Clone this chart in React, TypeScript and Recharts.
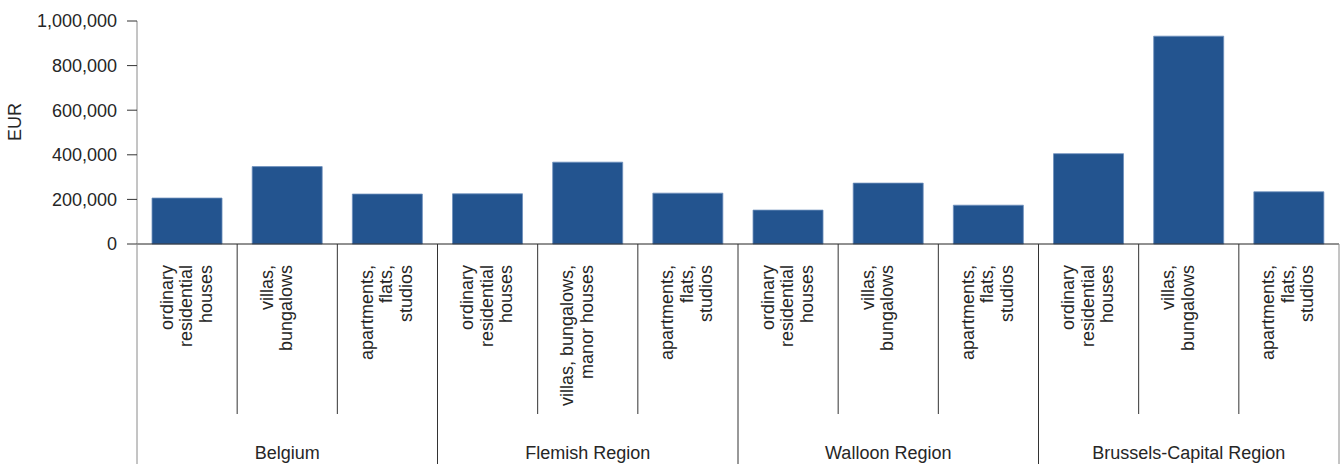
import React from 'react';
import { BarChart, Bar, XAxis, YAxis } from 'recharts';

const regions = ['Belgium', 'Flemish Region', 'Walloon Region', 'Brussels-Capital Region'];

const categoryLabels: string[][] = [
  ['ordinary', 'residential', 'houses'],
  ['villas,', 'bungalows'],
  ['apartments,', 'flats,', 'studios'],
  ['ordinary', 'residential', 'houses'],
  ['villas, bungalows,', 'manor houses'],
  ['apartments,', 'flats,', 'studios'],
  ['ordinary', 'residential', 'houses'],
  ['villas,', 'bungalows'],
  ['apartments,', 'flats,', 'studios'],
  ['ordinary', 'residential', 'houses'],
  ['villas,', 'bungalows'],
  ['apartments,', 'flats,', 'studios'],
];

const prices = [206000, 347000, 224000, 225000, 367000, 228000, 152000, 273000, 174000, 405000, 932000, 234000];

const yTicks = [0, 200000, 400000, 600000, 800000, 1000000];

const data = prices.map((v, i) => ({
  key: `c${i}`,
  region: regions[Math.floor(i / 3)],
  lines: categoryLabels[i],
  value: v,
}));

const W = 1341;
const H = 464;
const M = { top: 21, right: 2, bottom: 0, left: 0 };
const Y_W = 137;
const X_H = 220;
const FONT = '"Liberation Sans", Arial, Helvetica, sans-serif';
const TEXT = '#262626';

const CategoryTick = (props: any) => {
  const { x, y, payload, index } = props;
  const n = data.length;
  const band = (W - M.left - M.right - Y_W) / n;
  const half = payload && payload.offset ? payload.offset : band / 2;
  const i = typeof index === 'number' ? index : payload.index;
  const d = data[i];
  if (!d) return null;
  const isGroupStart = i % 3 === 0;
  const lines = d.lines;
  const lineGap = 19.5;
  const els: React.ReactNode[] = [];
  els.push(
    <line key="sep" x1={x - half} x2={x - half} y1={y} y2={y + (isGroupStart ? X_H : 170)}
      stroke={i === 0 ? '#8a8a8a' : '#333'} strokeWidth={1} />
  );
  if (i === n - 1) {
    els.push(<line key="sepR" x1={x + half} x2={x + half} y1={y} y2={y + X_H} stroke="#8a8a8a" strokeWidth={1} />);
  }
  lines.forEach((ln: string, k: number) => {
    const bx = x + (k - 1) * lineGap + 5;
    const ty = y + 21;
    els.push(
      <text key={`l${k}`} x={bx} y={ty} transform={`rotate(-90, ${bx}, ${ty})`} textAnchor="end"
        fontSize={18} fontFamily={FONT} fill={TEXT}>{ln}</text>
    );
  });
  if (i % 3 === 1) {
    els.push(
      <text key="grp" x={x} y={y + 215} textAnchor="middle" fontSize={18} fontFamily={FONT} fill={TEXT}>
        {d.region}
      </text>
    );
  }
  return <g>{els}</g>;
};

const EurLabel = () => (
  <text x={21} y={122} transform="rotate(-90, 21, 122)" textAnchor="middle" fontSize={18}
    fontFamily={FONT} fill={TEXT}>EUR</text>
);

export default function App() {
  return (
    <div style={{ position: 'absolute', left: 0, top: 0, width: W, height: H, background: '#fff' }}>
      <BarChart width={W} height={H} data={data} margin={M} barCategoryGap="15%">
        <XAxis dataKey="key" interval={0} tickLine={false} tickSize={0} tickMargin={0} height={X_H}
          axisLine={{ stroke: '#222', strokeWidth: 1 }} tick={<CategoryTick />} />
        <YAxis width={Y_W} domain={[0, 1000000]} ticks={yTicks} interval={0}
          tickFormatter={(v: number) => v.toLocaleString('en-US')}
          tick={{ fontSize: 18, fontFamily: FONT, fill: TEXT }}
          tickSize={10} tickMargin={10}
          tickLine={{ stroke: '#333' }} axisLine={{ stroke: '#8a8a8a' }}
          label={<EurLabel />} />
        <Bar dataKey="value" fill="#23548f" stroke="#6d8fbd" strokeWidth={0.8} isAnimationActive={false} />
      </BarChart>
    </div>
  );
}
